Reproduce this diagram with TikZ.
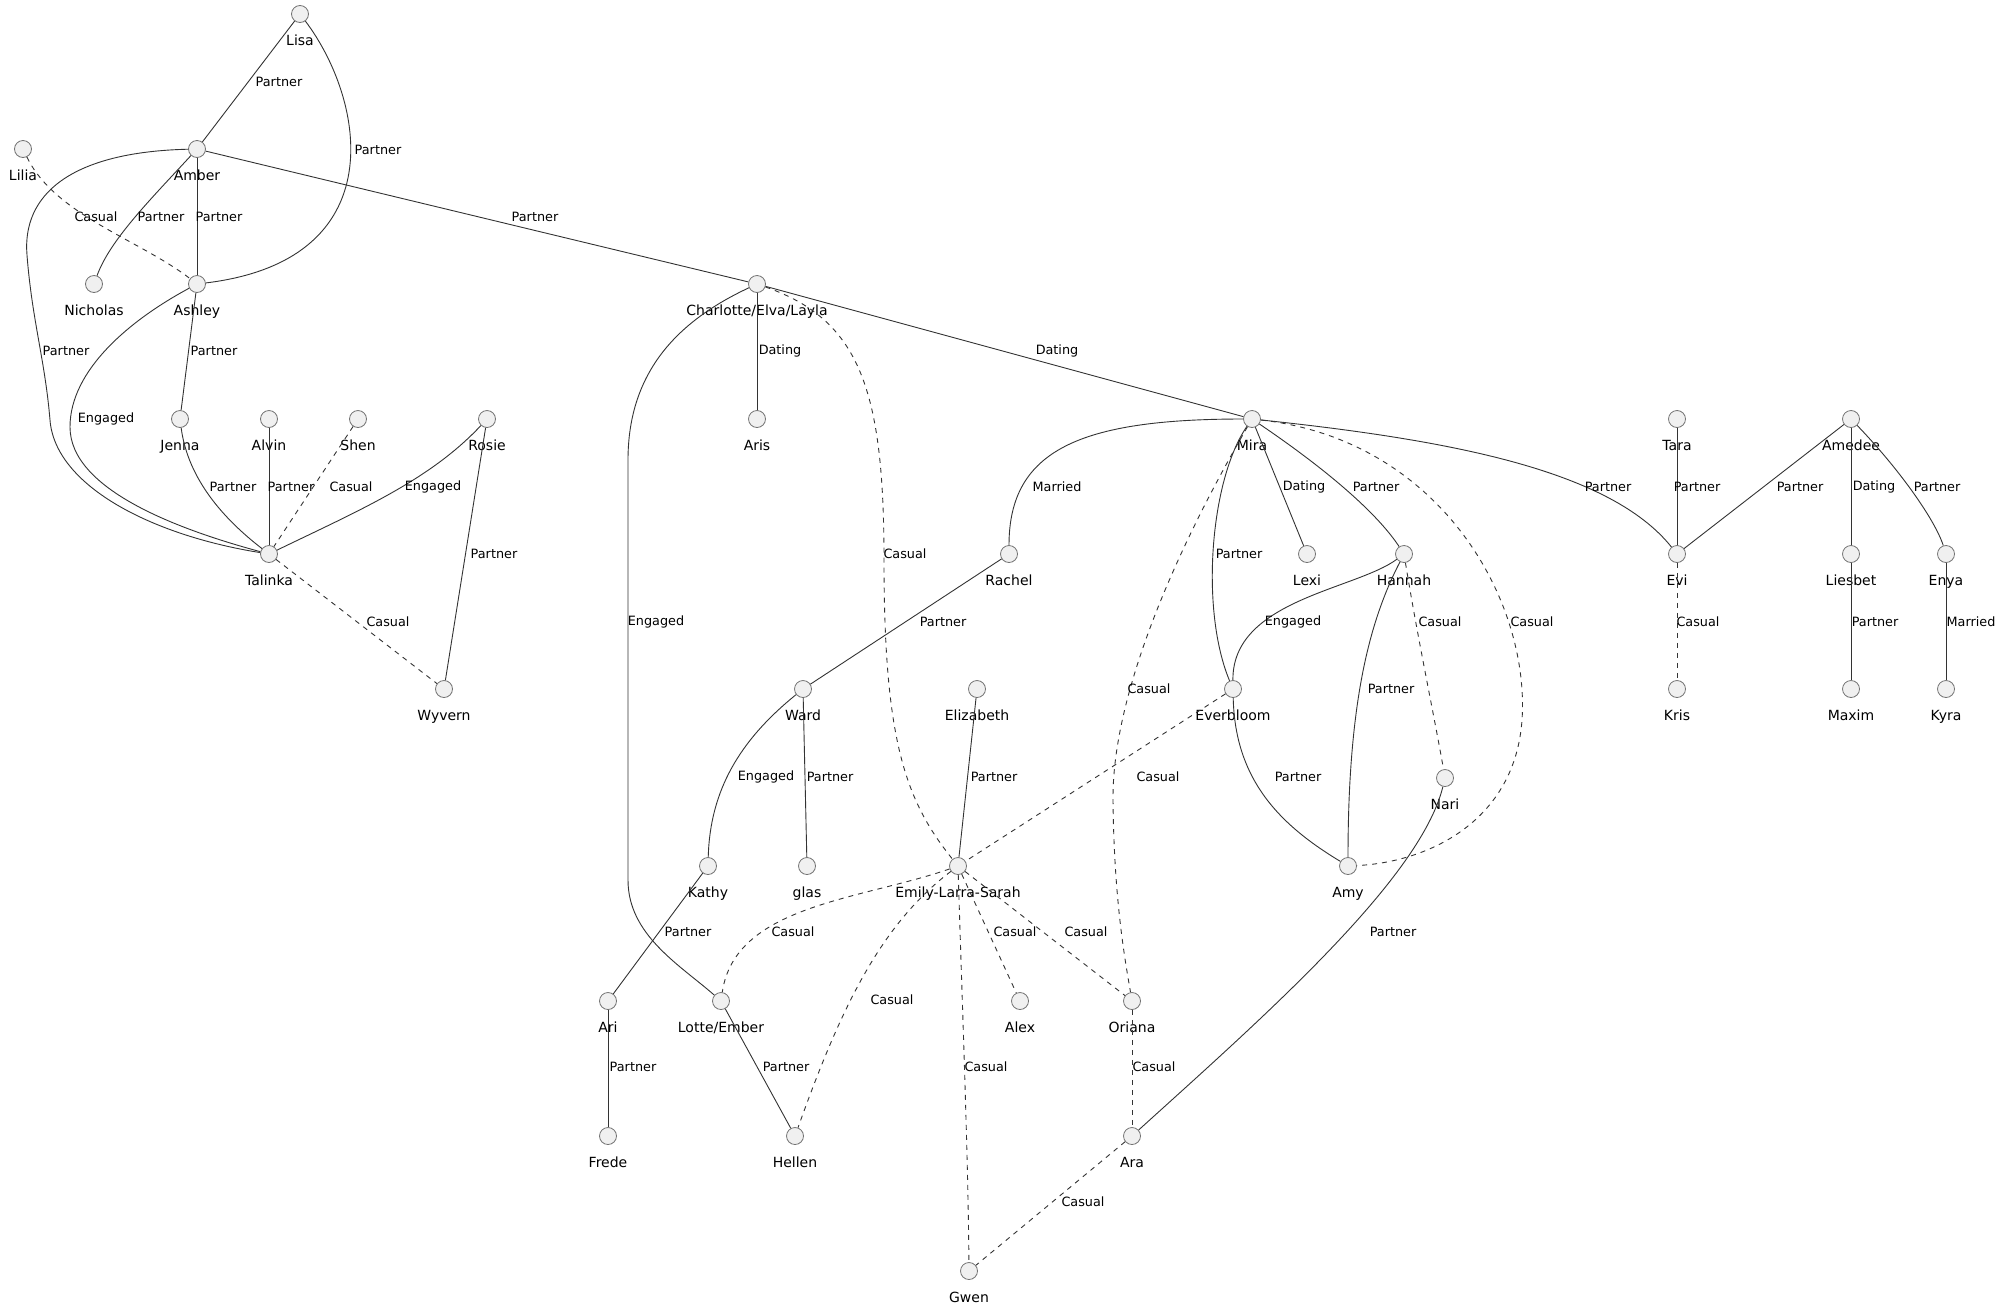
\documentclass[tikz,border=0pt]{standalone}
\usepackage{fontspec}
\setmainfont{DejaVu Sans}
\usetikzlibrary{positioning}

\tikzset{
  person/.style={circle, draw=black!55, fill=black!6, minimum size=17pt, inner sep=0pt, line width=0.8pt},
  who/.style={inner sep=0pt, text height=10pt, text depth=3pt, font=\fontsize{14}{16}\selectfont},
  tag/.style={inner sep=0pt, font=\fontsize{12.8}{15}\selectfont},
  rel/.style={draw=black!80, line width=0.9pt},
  casual/.style={rel, dash pattern=on 5pt off 5pt},
}

\begin{document}
\begin{tikzpicture}[x=1pt, y=-1pt]
  \useasboundingbox (0,0) rectangle (2002,1307);

  % people
  \node[person] (lisa) at (300,14) {};
  \node[person] (lilia) at (23,149) {};
  \node[person] (amber) at (197,149) {};
  \node[person] (nicholas) at (94,284) {};
  \node[person] (ashley) at (197,284) {};
  \node[person] (charlotte) at (757,284) {};
  \node[person] (jenna) at (180,419) {};
  \node[person] (alvin) at (269,419) {};
  \node[person] (shen) at (358,419) {};
  \node[person] (rosie) at (487,419) {};
  \node[person] (aris) at (757,419) {};
  \node[person] (mira) at (1252,419) {};
  \node[person] (tara) at (1677,419) {};
  \node[person] (amedee) at (1851,419) {};
  \node[person] (talinka) at (269,554) {};
  \node[person] (rachel) at (1009,554) {};
  \node[person] (lexi) at (1307,554) {};
  \node[person] (hannah) at (1404,554) {};
  \node[person] (evi) at (1677,554) {};
  \node[person] (liesbet) at (1851,554) {};
  \node[person] (enya) at (1946,554) {};
  \node[person] (wyvern) at (444,689) {};
  \node[person] (ward) at (803,689) {};
  \node[person] (elizabeth) at (977,689) {};
  \node[person] (everbloom) at (1233,689) {};
  \node[person] (kris) at (1677,689) {};
  \node[person] (maxim) at (1851,689) {};
  \node[person] (kyra) at (1946,689) {};
  \node[person] (nari) at (1445,778) {};
  \node[person] (kathy) at (708,866) {};
  \node[person] (glas) at (807,866) {};
  \node[person] (emily) at (958,866) {};
  \node[person] (amy) at (1348,866) {};
  \node[person] (ari) at (608,1001) {};
  \node[person] (lotte) at (721,1001) {};
  \node[person] (alex) at (1020,1001) {};
  \node[person] (oriana) at (1132,1001) {};
  \node[person] (frede) at (608,1136) {};
  \node[person] (hellen) at (795,1136) {};
  \node[person] (ara) at (1132,1136) {};
  \node[person] (gwen) at (969,1271) {};

  % names
  \node[who] (lisa-n) [below=12pt of lisa] {Lisa};
  \node[who] (lilia-n) [below=12pt of lilia] {Lilia};
  \node[who] (amber-n) [below=12pt of amber] {Amber};
  \node[who] (nicholas-n) [below=12pt of nicholas] {Nicholas};
  \node[who] (ashley-n) [below=12pt of ashley] {Ashley};
  \node[who] (charlotte-n) [below=12pt of charlotte] {Charlotte/Elva/Layla};
  \node[who] (jenna-n) [below=12pt of jenna] {Jenna};
  \node[who] (alvin-n) [below=12pt of alvin] {Alvin};
  \node[who] (shen-n) [below=12pt of shen] {Shen};
  \node[who] (rosie-n) [below=12pt of rosie] {Rosie};
  \node[who] (aris-n) [below=12pt of aris] {Aris};
  \node[who] (mira-n) [below=12pt of mira] {Mira};
  \node[who] (tara-n) [below=12pt of tara] {Tara};
  \node[who] (amedee-n) [below=12pt of amedee] {Amedee};
  \node[who] (talinka-n) [below=12pt of talinka] {Talinka};
  \node[who] (rachel-n) [below=12pt of rachel] {Rachel};
  \node[who] (lexi-n) [below=12pt of lexi] {Lexi};
  \node[who] (hannah-n) [below=12pt of hannah] {Hannah};
  \node[who] (evi-n) [below=12pt of evi] {Evi};
  \node[who] (liesbet-n) [below=12pt of liesbet] {Liesbet};
  \node[who] (enya-n) [below=12pt of enya] {Enya};
  \node[who] (wyvern-n) [below=12pt of wyvern] {Wyvern};
  \node[who] (ward-n) [below=12pt of ward] {Ward};
  \node[who] (elizabeth-n) [below=12pt of elizabeth] {Elizabeth};
  \node[who] (everbloom-n) [below=12pt of everbloom] {Everbloom};
  \node[who] (kris-n) [below=12pt of kris] {Kris};
  \node[who] (maxim-n) [below=12pt of maxim] {Maxim};
  \node[who] (kyra-n) [below=12pt of kyra] {Kyra};
  \node[who] (nari-n) [below=12pt of nari] {Nari};
  \node[who] (kathy-n) [below=12pt of kathy] {Kathy};
  \node[who] (glas-n) [below=12pt of glas] {glas};
  \node[who] (emily-n) [below=12pt of emily] {Emily-Larra-Sarah};
  \node[who] (amy-n) [below=12pt of amy] {Amy};
  \node[who] (ari-n) [below=12pt of ari] {Ari};
  \node[who] (lotte-n) [below=12pt of lotte] {Lotte/Ember};
  \node[who] (alex-n) [below=12pt of alex] {Alex};
  \node[who] (oriana-n) [below=12pt of oriana] {Oriana};
  \node[who] (frede-n) [below=12pt of frede] {Frede};
  \node[who] (hellen-n) [below=12pt of hellen] {Hellen};
  \node[who] (ara-n) [below=12pt of ara] {Ara};
  \node[who] (gwen-n) [below=12pt of gwen] {Gwen};

  % relations
  \draw[rel] (lisa) -- (amber);
  \draw[rel] (lisa) .. controls (365,100) and (395,260) .. (ashley);
  \draw[casual] (lilia) .. controls (55,215) and (140,240) .. (ashley);
  \draw[rel] (amber) .. controls (150,200) and (110,240) .. (nicholas);
  \draw[rel] (amber) -- (ashley);
  \draw[rel] (amber) -- (charlotte);
  \draw[rel] (amber) .. controls (70,152) and (22,195) .. (27,255) .. controls (32,320) and (45,360) .. (50,420) .. controls (55,485) and (150,535) .. (talinka);
  \draw[rel] (ashley) -- (jenna);
  \draw[rel] (ashley) .. controls (130,320) and (70,370) .. (70,427) .. controls (70,490) and (180,530) .. (talinka);
  \draw[rel] (jenna) .. controls (188,480) and (225,520) .. (talinka);
  \draw[rel] (alvin) -- (talinka);
  \draw[casual] (shen) -- (talinka);
  \draw[rel] (rosie) .. controls (430,480) and (360,510) .. (talinka);
  \draw[rel] (rosie) -- (wyvern);
  \draw[casual] (talinka) -- (wyvern);
  \draw[rel] (charlotte) -- (aris);
  \draw[rel] (charlotte) -- (mira);
  \draw[casual] (charlotte) .. controls (860,320) and (884,390) .. (884,560) .. controls (884,740) and (905,800) .. (emily);
  \draw[rel] (charlotte) .. controls (680,320) and (628,370) .. (628,460) -- (628,880) .. controls (628,935) and (680,965) .. (lotte);
  \draw[rel] (mira) .. controls (1080,419) and (1009,450) .. (rachel);
  \draw[rel] (mira) -- (lexi);
  \draw[rel] (mira) .. controls (1320,465) and (1375,510) .. (hannah);
  \draw[rel] (mira) .. controls (1210,480) and (1200,610) .. (everbloom);
  \draw[casual] (mira) .. controls (1170,560) and (1112,700) .. (1113,800) .. controls (1114,900) and (1125,960) .. (oriana);
  \draw[casual] (mira) .. controls (1440,440) and (1530,600) .. (1522,720) .. controls (1515,820) and (1430,862) .. (amy);
  \draw[rel] (mira) .. controls (1450,440) and (1610,470) .. (evi);
  \draw[rel] (rachel) -- (ward);
  \draw[rel] (hannah) .. controls (1355,590) and (1232,600) .. (everbloom);
  \draw[rel] (hannah) .. controls (1370,620) and (1348,700) .. (amy);
  \draw[casual] (hannah) .. controls (1418,640) and (1435,720) .. (nari);
  \draw[rel] (tara) -- (evi);
  \draw[rel] (amedee) -- (evi);
  \draw[rel] (amedee) -- (liesbet);
  \draw[rel] (amedee) .. controls (1900,470) and (1935,520) .. (enya);
  \draw[casual] (evi) -- (kris);
  \draw[rel] (liesbet) -- (maxim);
  \draw[rel] (enya) -- (kyra);
  \draw[rel] (ward) .. controls (740,740) and (710,790) .. (kathy);
  \draw[rel] (ward) -- (glas);
  \draw[rel] (elizabeth) -- (emily);
  \draw[casual] (everbloom) -- (emily);
  \draw[rel] (everbloom) .. controls (1235,780) and (1280,825) .. (amy);
  \draw[rel] (nari) .. controls (1420,880) and (1260,1020) .. (ara);
  \draw[rel] (kathy) -- (ari);
  \draw[casual] (emily) .. controls (860,900) and (735,905) .. (lotte);
  \draw[casual] (emily) .. controls (880,925) and (840,1010) .. (hellen);
  \draw[casual] (emily) -- (alex);
  \draw[casual] (emily) -- (oriana);
  \draw[casual] (emily) .. controls (962,1000) and (968,1150) .. (gwen);
  \draw[rel] (ari) -- (frede);
  \draw[rel] (lotte) -- (hellen);
  \draw[casual] (oriana) -- (ara);
  \draw[casual] (ara) -- (gwen);

  % relation labels
  \node[tag] (t1) at (279,82) {Partner};
  \node[tag] (t2) at (378,150) {Partner};
  \node[tag] (t3) at (96,217) {Casual};
  \node[tag] (t4) at (161,217) {Partner};
  \node[tag] (t5) at (219,217) {Partner};
  \node[tag] (t6) at (535,217) {Partner};
  \node[tag] (t7) at (66,351) {Partner};
  \node[tag] (t8) at (214,351) {Partner};
  \node[tag] (t9) at (106,419) {Engaged};
  \node[tag] (t10) at (233,487) {Partner};
  \node[tag] (t11) at (291,487) {Partner};
  \node[tag] (t12) at (351,487) {Casual};
  \node[tag] (t13) at (433,487) {Engaged};
  \node[tag] (t14) at (494,554) {Partner};
  \node[tag] (t15) at (388,622) {Casual};
  \node[tag] (t16) at (780,351) {Dating};
  \node[tag] (t17) at (1057,351) {Dating};
  \node[tag] (t18) at (905,554) {Casual};
  \node[tag] (t19) at (656,622) {Engaged};
  \node[tag] (t20) at (1057,487) {Married};
  \node[tag] (t21) at (1304,487) {Dating};
  \node[tag] (t22) at (1376,487) {Partner};
  \node[tag] (t23) at (1608,487) {Partner};
  \node[tag] (t24) at (1697,487) {Partner};
  \node[tag] (t25) at (1800,487) {Partner};
  \node[tag] (t26) at (1874,487) {Dating};
  \node[tag] (t27) at (1937,487) {Partner};
  \node[tag] (t28) at (1239,554) {Partner};
  \node[tag] (t29) at (943,622) {Partner};
  \node[tag] (t30) at (1293,622) {Engaged};
  \node[tag] (t31) at (1440,622) {Casual};
  \node[tag] (t32) at (1532,622) {Casual};
  \node[tag] (t33) at (1698,622) {Casual};
  \node[tag] (t34) at (1875,622) {Partner};
  \node[tag] (t35) at (1971,622) {Married};
  \node[tag] (t36) at (1149,689) {Casual};
  \node[tag] (t37) at (1391,689) {Partner};
  \node[tag] (t38) at (766,777) {Engaged};
  \node[tag] (t39) at (830,777) {Partner};
  \node[tag] (t40) at (994,777) {Partner};
  \node[tag] (t41) at (1158,777) {Casual};
  \node[tag] (t42) at (1298,777) {Partner};
  \node[tag] (t43) at (688,932) {Partner};
  \node[tag] (t44) at (793,932) {Casual};
  \node[tag] (t45) at (1015,932) {Casual};
  \node[tag] (t46) at (1086,932) {Casual};
  \node[tag] (t47) at (1393,932) {Partner};
  \node[tag] (t48) at (892,1000) {Casual};
  \node[tag] (t49) at (633,1067) {Partner};
  \node[tag] (t50) at (786,1067) {Partner};
  \node[tag] (t51) at (986,1067) {Casual};
  \node[tag] (t52) at (1154,1067) {Casual};
  \node[tag] (t53) at (1083,1202) {Casual};
\end{tikzpicture}
\end{document}
